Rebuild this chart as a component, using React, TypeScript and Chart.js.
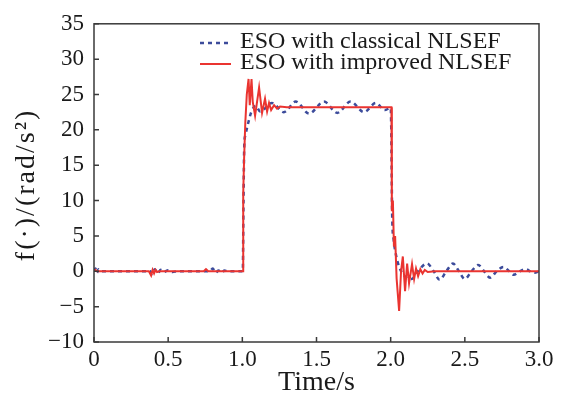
import React, { useEffect, useRef } from "react";
import { Chart, registerables } from "chart.js";

Chart.register(...registerables);

// ---- data (time in s, value in rad/s^2) ----
const redT = [
  0, 0.01, 0.02, 0.03, 0.37, 0.385, 0.395, 0.405, 0.415, 0.425, 0.44, 0.74, 0.755, 0.77, 1.0,
  1.005, 1.006, 1.012, 1.02, 1.03, 1.042, 1.05, 1.062, 1.07, 1.086, 1.113, 1.133, 1.153,
  1.167, 1.18, 1.194, 1.214, 1.234, 1.254, 1.3, 2.005,
  2.008, 2.015, 2.022, 2.03, 2.04, 2.057, 2.07, 2.082, 2.097, 2.111, 2.124, 2.144, 2.158,
  2.171, 2.185, 2.2, 2.215, 2.23, 2.25, 2.3, 3.0,
];
const redV = [
  0, 0.2, 0, 0, 0, -0.6, 0.2, -0.3, 0.2, -0.1, 0, 0, 0.3, 0, 0,
  0, 11, 16, 21, 25, 27.2, 23.5, 27.2, 24, 22, 26, 22.4, 24.4,
  22.6, 23.8, 22.8, 23.5, 23.0, 23.3, 23.2, 23.2,
  8.5, 10, 3.5, 5, -1, -5.6, 0, 2.1, -2.8, 1.1, -1.7, 1.0, -1.1,
  0.4, -0.7, 0.3, -0.3, 0.2, -0.1, 0, 0,
];

const blueT = [
  0, 0.01, 0.02, 0.03, 0.045, 0.38, 0.39, 0.41, 0.43, 0.45, 0.47, 0.5, 0.53, 0.56,
  0.78, 0.8, 0.82, 0.84, 0.86, 0.88, 0.9, 1.0,
  1.003, 1.008, 1.013, 1.02, 1.04, 1.06, 1.09,
  1.12, 1.2, 1.28, 1.36, 1.45, 1.55, 1.64, 1.73, 1.82, 1.9, 1.96, 2.0,
  2.004, 2.01, 2.02, 2.035, 2.06, 2.1, 2.14, 2.19, 2.245, 2.29, 2.33, 2.375, 2.42, 2.46,
  2.5, 2.545, 2.59, 2.63, 2.67, 2.715, 2.76, 2.8, 2.83, 2.87, 2.91, 2.94, 2.97, 3.0,
];
const blueV = [
  0, 0.4, -0.2, 0.3, 0, 0, -0.4, 0.3, -0.3, 0.2, -0.1, 0.15, -0.1, 0,
  0, 0.4, -0.2, 0.1, -0.2, 0.1, 0, 0,
  0, 10, 17.8, 19.2, 21, 22.5, 23.4,
  22.6, 23.8, 22.5, 24.0, 22.3, 24.0, 22.4, 24.0, 22.5, 23.8, 22.8, 23.1,
  20, 8, 4.5, 2.4, 0.5, -0.8, -1.1, 0.2, 1.1, 0, -1.2, 0, 1.1, 0,
  -1.1, 0, 0.9, 0, -0.9, 0, 0.6, 0, -0.5, 0, 0.3, 0, -0.2, 0,
];

const seriesNames = ["ESO with classical NLSEF", "ESO with improved NLSEF"];
const xTicks = [0, 0.5, 1.0, 1.5, 2.0, 2.5, 3.0];
const yTicks = [-10, -5, 0, 5, 10, 15, 20, 25, 30, 35];
const xTitle = "Time/s";
const yTitle = "f(\u00b7)/(rad/s\u00b2)";

const BLUE = "#3c4b9b";
const RED = "#ea3430";
const AXIS = "#3a3a3a";
const TEXT = "#1a1a1a";
const FONT = "'Liberation Serif', 'Times New Roman', serif";

const toPts = (t: number[], v: number[]) => t.map((x, i) => ({ x, y: v[i] }));

const framePlugin = {
  id: "frame",
  afterDatasetsDraw(chart: any) {
    const { ctx, chartArea: a, scales } = chart;
    ctx.save();
    ctx.strokeStyle = AXIS;
    ctx.lineWidth = 1.5;
    ctx.strokeRect(a.left, a.top, a.right - a.left, a.bottom - a.top);
    ctx.beginPath();
    xTicks.forEach((t) => {
      const px = scales.x.getPixelForValue(t);
      ctx.moveTo(px, a.bottom);
      ctx.lineTo(px, a.bottom - 5);
    });
    yTicks.forEach((t) => {
      const py = scales.y.getPixelForValue(t);
      ctx.moveTo(a.left, py);
      ctx.lineTo(a.left + 5, py);
    });
    ctx.stroke();

    // legend
    const lx0 = 200, lx1 = 231, tx = 240;
    const rows = [
      { y: 43, color: BLUE, dash: [4, 4], w: 2.5, text: seriesNames[0] },
      { y: 64, color: RED, dash: [], w: 2, text: seriesNames[1] },
    ];
    ctx.font = `24px ${FONT}`;
    ctx.textBaseline = "middle";
    ctx.textAlign = "left";
    rows.forEach((r) => {
      ctx.beginPath();
      ctx.setLineDash(r.dash);
      ctx.strokeStyle = r.color;
      ctx.lineWidth = r.w;
      ctx.moveTo(lx0, r.y);
      ctx.lineTo(lx1, r.y);
      ctx.stroke();
      ctx.setLineDash([]);
      ctx.fillStyle = TEXT;
      ctx.fillText(r.text, tx, r.y - 1);
    });

    // y-axis title
    ctx.translate(27, (a.top + a.bottom) / 2 + 2);
    ctx.rotate(-Math.PI / 2);
    ctx.font = `28px ${FONT}`;
    try {
      (ctx as any).letterSpacing = "2px";
    } catch (e) {}
    ctx.textAlign = "center";
    ctx.textBaseline = "middle";
    ctx.fillStyle = TEXT;
    ctx.fillText(yTitle, 0, 0);
    ctx.restore();
  },
};

export default function App() {
  const ref = useRef<HTMLCanvasElement>(null);
  useEffect(() => {
    document.body.style.margin = "0";
    const chart = new Chart(ref.current!, {
      type: "line",
      data: {
        datasets: [
          {
            label: seriesNames[1],
            data: toPts(redT, redV),
            borderColor: RED,
            borderWidth: 2,
            pointRadius: 0,
            tension: 0,
            order: 0,
          },
          {
            label: seriesNames[0],
            data: toPts(blueT, blueV),
            borderColor: BLUE,
            borderWidth: 2.5,
            borderDash: [4, 4],
            pointRadius: 0,
            cubicInterpolationMode: "monotone",
            order: 1,
          },
        ],
      },
      options: {
        animation: false,
        responsive: false,
        layout: { padding: { top: 20, right: 23, left: 0, bottom: 0 } },
        plugins: { legend: { display: false }, tooltip: { enabled: false } },
        scales: {
          x: {
            type: "linear",
            min: 0,
            max: 3,
            grid: { display: false, drawTicks: false },
            border: { display: false },
            afterBuildTicks: (s: any) => {
              s.ticks = xTicks.map((v) => ({ value: v }));
            },
            afterFit: (s: any) => {
              s.height = 57;
            },
            ticks: {
              padding: 4,
              color: TEXT,
              font: { family: FONT, size: 23 },
              callback: (v: any) => (Number(v) === 0 ? "0" : Number(v).toFixed(1)),
              maxRotation: 0,
            },
            title: {
              display: true,
              text: xTitle,
              color: TEXT,
              font: { family: FONT, size: 28 },
              padding: { top: 0, bottom: 0 },
            },
          },
          y: {
            type: "linear",
            min: -10,
            max: 35,
            grid: { display: false, drawTicks: false },
            border: { display: false },
            afterBuildTicks: (s: any) => {
              s.ticks = yTicks.map((v) => ({ value: v }));
            },
            afterFit: (s: any) => {
              s.width = 94;
            },
            ticks: {
              padding: 10,
              color: TEXT,
              font: { family: FONT, size: 23 },
              callback: (v: any) => (Number(v) < 0 ? "\u2212" + Math.abs(Number(v)) : String(v)),
            },
            title: { display: false },
          },
        },
      },
      plugins: [framePlugin],
    });
    return () => chart.destroy();
  }, []);
  return (
    <div style={{ position: "absolute", left: 0, top: 0, width: 562, height: 399, background: "#fff" }}>
      <canvas ref={ref} width={562} height={399} />
    </div>
  );
}
